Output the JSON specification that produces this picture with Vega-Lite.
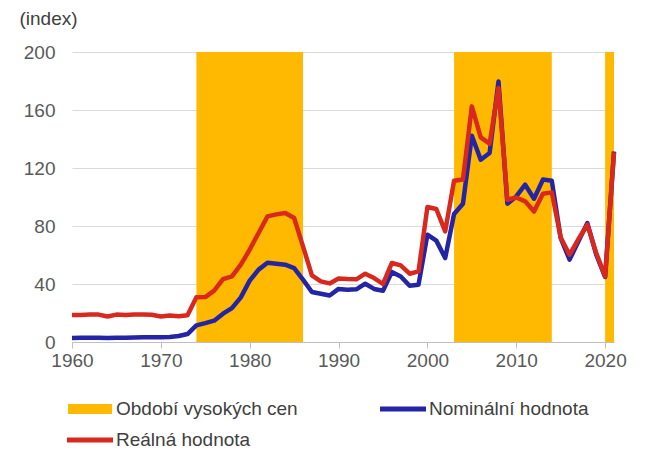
{
  "$schema": "https://vega.github.io/schema/vega-lite/v6.json",
  "width": 542,
  "height": 290,
  "autosize": "none",
  "padding": {"left": 72, "top": 52, "right": 56, "bottom": 134},
  "background": "white",
  "config": {
    "font": "Liberation Sans",
    "view": {"stroke": null},
    "axis": {"labelFont": "Liberation Sans", "labelFontSize": 19, "labelColor": "#595959", "titleFont": "Liberation Sans"},
    "legend": {"labelFont": "Liberation Sans"}
  },
  "datasets": {
    "periods": [
      {"start": 1974, "end": 1986, "label": "Období vysokých cen"},
      {"start": 2003, "end": 2014, "label": "Období vysokých cen"},
      {"start": 2020, "end": 2021, "label": "Období vysokých cen"}
    ],
    "nominal": [
      {"year": 1960, "value": 2.8}, {"year": 1961, "value": 2.9}, {"year": 1962, "value": 2.9}, {"year": 1963, "value": 2.9},
      {"year": 1964, "value": 2.7}, {"year": 1965, "value": 3.0}, {"year": 1966, "value": 3.0}, {"year": 1967, "value": 3.1},
      {"year": 1968, "value": 3.2}, {"year": 1969, "value": 3.2}, {"year": 1970, "value": 3.2}, {"year": 1971, "value": 3.5},
      {"year": 1972, "value": 4.1}, {"year": 1973, "value": 5.5}, {"year": 1974, "value": 11.5}, {"year": 1975, "value": 13.0},
      {"year": 1976, "value": 14.7}, {"year": 1977, "value": 19.5}, {"year": 1978, "value": 23.4}, {"year": 1979, "value": 30.8},
      {"year": 1980, "value": 42.3}, {"year": 1981, "value": 49.9}, {"year": 1982, "value": 54.7}, {"year": 1983, "value": 54.0},
      {"year": 1984, "value": 53.3}, {"year": 1985, "value": 51.0}, {"year": 1986, "value": 43.0}, {"year": 1987, "value": 34.5},
      {"year": 1988, "value": 33.3}, {"year": 1989, "value": 32.1}, {"year": 1990, "value": 36.6}, {"year": 1991, "value": 36.1},
      {"year": 1992, "value": 36.3}, {"year": 1993, "value": 40.2}, {"year": 1994, "value": 36.6}, {"year": 1995, "value": 35.4},
      {"year": 1996, "value": 48.3}, {"year": 1997, "value": 45.2}, {"year": 1998, "value": 38.8}, {"year": 1999, "value": 39.5},
      {"year": 2000, "value": 74.0}, {"year": 2001, "value": 69.9}, {"year": 2002, "value": 57.9}, {"year": 2003, "value": 88.3},
      {"year": 2004, "value": 95.4}, {"year": 2005, "value": 142.3}, {"year": 2006, "value": 125.7}, {"year": 2007, "value": 130.3},
      {"year": 2008, "value": 179.7}, {"year": 2009, "value": 95.4}, {"year": 2010, "value": 100.4}, {"year": 2011, "value": 108.5},
      {"year": 2012, "value": 98.8}, {"year": 2013, "value": 112.0}, {"year": 2014, "value": 111.2}, {"year": 2015, "value": 71.7},
      {"year": 2016, "value": 56.8}, {"year": 2017, "value": 69.4}, {"year": 2018, "value": 82.0}, {"year": 2019, "value": 60.2},
      {"year": 2020, "value": 44.8}, {"year": 2021, "value": 131.4}
    ],
    "real": [
      {"year": 1960, "value": 18.6}, {"year": 1961, "value": 18.6}, {"year": 1962, "value": 18.9}, {"year": 1963, "value": 18.9},
      {"year": 1964, "value": 17.6}, {"year": 1965, "value": 18.9}, {"year": 1966, "value": 18.6}, {"year": 1967, "value": 19.0},
      {"year": 1968, "value": 19.0}, {"year": 1969, "value": 18.8}, {"year": 1970, "value": 17.6}, {"year": 1971, "value": 18.2},
      {"year": 1972, "value": 17.8}, {"year": 1973, "value": 18.4}, {"year": 1974, "value": 30.8}, {"year": 1975, "value": 31.0},
      {"year": 1976, "value": 35.4}, {"year": 1977, "value": 43.4}, {"year": 1978, "value": 45.2}, {"year": 1979, "value": 53.3},
      {"year": 1980, "value": 63.7}, {"year": 1981, "value": 75.2}, {"year": 1982, "value": 86.6}, {"year": 1983, "value": 88.0},
      {"year": 1984, "value": 89.0}, {"year": 1985, "value": 85.5}, {"year": 1986, "value": 66.0}, {"year": 1987, "value": 46.0},
      {"year": 1988, "value": 41.8}, {"year": 1989, "value": 40.4}, {"year": 1990, "value": 43.8}, {"year": 1991, "value": 43.4},
      {"year": 1992, "value": 43.2}, {"year": 1993, "value": 47.1}, {"year": 1994, "value": 44.1}, {"year": 1995, "value": 40.0},
      {"year": 1996, "value": 54.5}, {"year": 1997, "value": 52.8}, {"year": 1998, "value": 47.1}, {"year": 1999, "value": 48.7},
      {"year": 2000, "value": 93.1}, {"year": 2001, "value": 91.7}, {"year": 2002, "value": 76.3}, {"year": 2003, "value": 111.2},
      {"year": 2004, "value": 112.0}, {"year": 2005, "value": 162.5}, {"year": 2006, "value": 141.1}, {"year": 2007, "value": 136.8},
      {"year": 2008, "value": 175.2}, {"year": 2009, "value": 98.1}, {"year": 2010, "value": 99.7}, {"year": 2011, "value": 97.0},
      {"year": 2012, "value": 90.0}, {"year": 2013, "value": 102.3}, {"year": 2014, "value": 103.2}, {"year": 2015, "value": 72.1},
      {"year": 2016, "value": 60.2}, {"year": 2017, "value": 71.0}, {"year": 2018, "value": 80.9}, {"year": 2019, "value": 61.4},
      {"year": 2020, "value": 45.2}, {"year": 2021, "value": 130.8}
    ]
  },
  "layer": [
    {
      "data": {"name": "periods"},
      "mark": {"type": "rect"},
      "encoding": {
        "x": {"field": "start", "type": "quantitative", "scale": {"domain": [1960, 2021], "nice": false, "zero": false},
          "axis": {"values": [1960, 1970, 1980, 1990, 2000, 2010, 2020], "format": "d", "title": null, "grid": false,
            "domainColor": "#bfbfbf", "domainWidth": 1, "tickColor": "#bfbfbf", "tickSize": 6, "labelPadding": 3, "labelFlush": false}},
        "x2": {"field": "end"},
        "color": {"field": "label", "type": "nominal",
          "scale": {"domain": ["Období vysokých cen", "Nominální hodnota", "Reálná hodnota"], "range": ["#FFB900", "#2424A6", "#D9291E"]},
          "legend": {"orient": "none", "legendX": 8, "legendY": 347, "direction": "horizontal", "columns": 2, "title": null,
            "padding": 0, "symbolSize": 400, "labelFontSize": 19, "labelColor": "#404040", "labelOffset": 16, "labelLimit": 400,
            "columnPadding": 82, "rowPadding": 11,
            "encode": {"symbols": {"update": {
              "fill": {"scale": "color", "field": "value"},
              "stroke": {"value": "transparent"},
              "strokeWidth": {"value": 0},
              "opacity": {"value": 1},
              "shape": {"signal": "datum.value === 'Období vysokých cen' ? 'M-2.2,-0.5H2.2V0.5H-2.2Z' : 'M-2.3,-0.25H2.3V0.25H-2.3Z'"}
            }}}}
        }
      }
    },
    {
      "data": {"name": "nominal"},
      "transform": [{"calculate": "'Nominální hodnota'", "as": "series"}],
      "mark": {"type": "line", "strokeWidth": 4.5, "strokeJoin": "round"},
      "encoding": {
        "x": {"field": "year", "type": "quantitative"},
        "y": {"field": "value", "type": "quantitative", "scale": {"domain": [0, 200], "nice": false},
          "axis": {"values": [0, 40, 80, 120, 160, 200], "grid": true, "gridColor": "#dadada", "gridWidth": 1, "domain": false, "ticks": false,
            "labelPadding": 17, "title": "(index)", "titleAngle": 0, "titleAlign": "left", "titleBaseline": "middle",
            "titleX": -53, "titleY": -34, "titleFontSize": 19, "titleFontWeight": "normal", "titleColor": "#404040"}},
        "color": {"field": "series", "type": "nominal"}
      }
    },
    {
      "data": {"name": "real"},
      "transform": [{"calculate": "'Reálná hodnota'", "as": "series"}],
      "mark": {"type": "line", "strokeWidth": 4.5, "strokeJoin": "round"},
      "encoding": {
        "x": {"field": "year", "type": "quantitative"},
        "y": {"field": "value", "type": "quantitative"},
        "color": {"field": "series", "type": "nominal"}
      }
    }
  ]
}
